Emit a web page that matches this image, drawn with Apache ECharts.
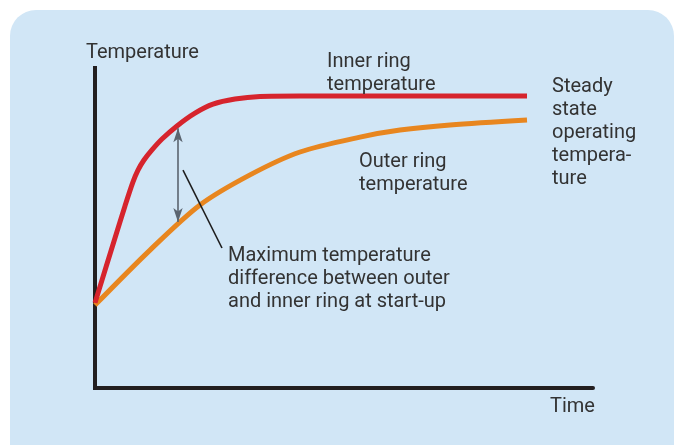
<!DOCTYPE html>
<html>
<head>
<meta charset="utf-8">
<script src="https://cdn.jsdelivr.net/npm/echarts@6/dist/echarts.min.js"></script>
<style>
html,body{margin:0;padding:0;background:#fff;}
#c{width:676px;height:445px;}
</style>
</head>
<body>
<div id="c"></div>
<script>
// Time (0-100 arbitrary units) and temperature (0-100 arbitrary units)
const innerTime = [0, 4, 6, 7.6, 8.6, 9.8, 11.4, 13.4, 16.4, 20, 23.6, 28, 33, 41, 86.4];
const innerTemp = [26.6, 46.9, 56.9, 64.4, 68.1, 71.25, 74.4, 77.8, 81.9, 85.9, 88.7, 90.3, 91.1, 91.25, 91.25];
const outerTime = [0, 11, 21, 31, 41, 53, 61, 71, 86.4];
const outerTemp = [25.9, 43.1, 57.2, 66.6, 73.75, 78.4, 80.6, 82.2, 83.75];
// Max difference arrow (time, temps) and leader line
const arrowTime = 16.6;
const arrowTop = 81.2;
const arrowBottom = 51.9;
const leaderFrom = [17.6, 68.1];
const leaderTo = [25.4, 43.75];

const FONT = 'Roboto';
const TXT = '#333333';

function pairs(xs, ys) { return xs.map((x, i) => [x, ys[i]]); }

function label(left, baseline, lines) {
  return {
    type: 'text', left: left, top: baseline - 17,
    style: { text: lines.join('\n'), font: '20px ' + FONT, fill: TXT, lineHeight: 23 },
    z: 10
  };
}

const chart = echarts.init(document.getElementById('c'), null, { renderer: 'canvas' });
chart.setOption({
  animation: false,
  backgroundColor: '#ffffff',
  grid: { left: 95, right: 83, top: 68, bottom: 57 },
  xAxis: {
    type: 'value', min: 0, max: 99.6,
    axisLine: { show: true, lineStyle: { color: '#231f20', width: 4 } },
    axisTick: { show: false }, axisLabel: { show: false }, splitLine: { show: false }
  },
  yAxis: {
    type: 'value', min: 0, max: 100,
    axisLine: { show: true, lineStyle: { color: '#231f20', width: 4, cap: 'square' } },
    axisTick: { show: false }, axisLabel: { show: false }, splitLine: { show: false }
  },
  graphic: [
    { type: 'rect', shape: { x: 10, y: 10, width: 664, height: 460, r: 26 }, style: { fill: '#d1e6f6' }, z: -100 },
    label(86, 58, ['Temperature']),
    label(327, 67, ['Inner ring', 'temperature']),
    label(552, 92, ['Steady', 'state', 'operating', 'tempera-', 'ture']),
    label(359, 167, ['Outer ring', 'temperature']),
    label(228, 261, ['Maximum temperature', 'difference between outer', 'and inner ring at start-up']),
    label(550, 412, ['Time'])
  ],
  series: [
    {
      type: 'line', name: 'Outer ring temperature', data: pairs(outerTime, outerTemp),
      smooth: 0.3, showSymbol: false,
      lineStyle: { color: '#e8861f', width: 5 }, z: 3
    },
    {
      type: 'line', name: 'Inner ring temperature', data: pairs(innerTime, innerTemp),
      smooth: 0.3, showSymbol: false,
      lineStyle: { color: '#d6242d', width: 5 }, z: 4,
      markLine: {
        silent: true, animation: false,
        label: { show: false },
        data: [
          [
            { coord: [arrowTime, arrowTop], symbol: 'arrow', symbolSize: [7, 14], lineStyle: { color: '#5b6570', width: 1.6, type: 'solid' } },
            { coord: [arrowTime, arrowBottom], symbol: 'arrow', symbolSize: [7, 14] }
          ],
          [
            { coord: leaderFrom, symbol: 'none', lineStyle: { color: '#1e1e1e', width: 1.6, type: 'solid' } },
            { coord: leaderTo, symbol: 'none' }
          ]
        ]
      }
    }
  ]
});
</script>
</body>
</html>
